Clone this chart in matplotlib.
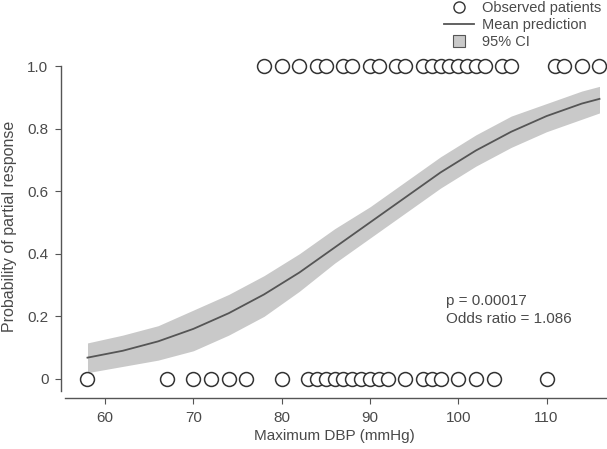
import numpy as np
import matplotlib
matplotlib.use('Agg')
from matplotlib import pyplot as plt
from matplotlib.lines import Line2D

# observed patients (Maximum DBP, mmHg)
dbpResponders = [78, 80, 82, 84, 85, 87, 88, 90, 91, 93, 94, 96, 97, 98, 99,
                 100, 101, 102, 103, 105, 106, 111, 112, 114, 116]
dbpNonResponders = [58, 67, 70, 72, 74, 76, 80, 83, 84, 85, 86, 87, 88, 89,
                    90, 91, 92, 94, 96, 97, 98, 100, 102, 104, 110]

# fitted curve and 95% CI
curveX = [58, 62, 66, 70, 74, 78, 82, 86, 90, 94, 98, 102, 106, 110, 114, 116]
meanPred = [0.068, 0.09, 0.12, 0.16, 0.21, 0.27, 0.34, 0.42, 0.50, 0.58,
            0.66, 0.73, 0.79, 0.84, 0.88, 0.895]
ciLower = [0.02, 0.04, 0.06, 0.09, 0.14, 0.20, 0.28, 0.37, 0.45, 0.53,
           0.61, 0.68, 0.74, 0.79, 0.83, 0.85]
ciUpper = [0.115, 0.14, 0.17, 0.22, 0.27, 0.33, 0.40, 0.48, 0.55, 0.63,
           0.71, 0.78, 0.84, 0.88, 0.92, 0.935]

yTicks = [0, 0.2, 0.4, 0.6, 0.8, 1.0]
yTickLabels = ['0', '0.2', '0.4', '0.6', '0.8', '1.0']
xTicks = [60, 70, 80, 90, 100, 110]

TXT = '#4a4a4a'
AX = '#555555'


def main():
    plt.rcParams['font.family'] = ['Liberation Sans', 'DejaVu Sans']
    plt.rcParams['font.size'] = 11

    fig = plt.figure(figsize=(6.07, 4.49), dpi=100)
    ax = fig.add_axes([61 / 607, 51 / 449, 546 / 607, 398 / 449])

    ax.fill_between(curveX, ciLower, ciUpper, color='#c9c9c9', lw=0, zorder=1)
    ax.plot(curveX, meanPred, color='#555555', lw=1.3, zorder=2)

    ax.plot(dbpResponders, np.ones(len(dbpResponders)), 'o', ms=10,
            mfc='white', mec='#333333', mew=1.1, clip_on=False, zorder=3)
    ax.plot(dbpNonResponders, np.zeros(len(dbpNonResponders)), 'o', ms=10,
            mfc='white', mec='#333333', mew=1.1, clip_on=False, zorder=3)

    ax.set_xlim(55.0, 116.85)
    ax.set_ylim(-0.061, 1.211)

    for s in ['top', 'right']:
        ax.spines[s].set_visible(False)
    for s in ['left', 'bottom']:
        ax.spines[s].set_color(AX)
        ax.spines[s].set_linewidth(1.0)
    ax.spines['left'].set_bounds(-0.04, 1.0)
    ax.spines['bottom'].set_bounds(55.5, 116.85)

    ax.set_xticks(xTicks)
    ax.set_yticks(yTicks)
    ax.set_yticklabels(yTickLabels)
    ax.tick_params(direction='out', length=4, width=0.8, color=AX,
                   labelcolor=TXT, labelsize=11)
    ax.tick_params(axis='x', pad=5)
    ax.tick_params(axis='y', pad=5)

    ax.set_xlabel('Maximum DBP (mmHg)', color=TXT, fontsize=11, labelpad=3)
    ax.set_ylabel('Probability of partial response', color=TXT, fontsize=11.5)
    ax.yaxis.set_label_coords(-0.08, 0.43)

    ax.text(98.6, 0.27, 'p = 0.00017\nOdds ratio = 1.086', color=TXT,
            fontsize=11, ha='left', va='top', linespacing=1.3)

    handles = [
        Line2D([], [], ls='none', marker='o', ms=8, mfc='white',
               mec='#333333', mew=1.0),
        Line2D([], [], color='#555555', lw=1.3),
        Line2D([], [], ls='none', marker='s', ms=8, mfc='#c9c9c9',
               mec='#555555', mew=0.8),
    ]
    ax.legend(handles, ['Observed patients', 'Mean prediction', '95% CI'],
              loc='upper left', bbox_to_anchor=(440 / 607, 1.008),
              bbox_transform=fig.transFigure, frameon=False,
              fontsize=10.5, labelcolor=TXT, handlelength=2.0,
              handletextpad=0.6, labelspacing=0.2, borderpad=0.1,
              borderaxespad=0.2)

    fig.savefig('out.png', dpi=100)


if __name__ == '__main__':
    main()
